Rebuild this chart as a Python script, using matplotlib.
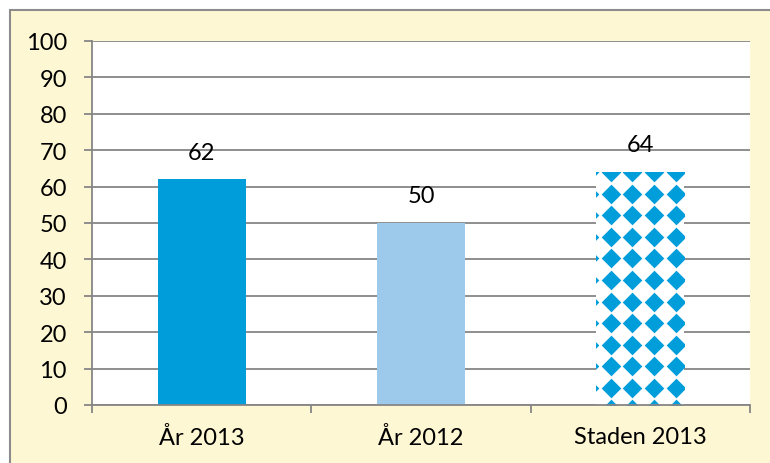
import numpy as np
import matplotlib
matplotlib.use("Agg")
import matplotlib.pyplot as plt
from matplotlib.patches import Rectangle

categories = ["År 2013", "År 2012", "Staden 2013"]
values = [62, 50, 64]
y_ticks = [0, 10, 20, 30, 40, 50, 60, 70, 80, 90, 100]

plt.rcParams['font.family'] = ['Lato', 'DejaVu Sans']

W, H = 770, 464
fig = plt.figure(figsize=(W / 100, H / 100), dpi=100)
fig.patch.set_facecolor("white")

# yellow chart area with grey frame (right/bottom run off the canvas)
fig.patches.append(Rectangle((10 / W, -0.2), 1.5, 1.2 - 11 / H,
                             transform=fig.transFigure, facecolor="#FEF7D3",
                             edgecolor="#8C8C8C", lw=1.5, zorder=-5))

ax = fig.add_axes([92 / W, 1 - 406 / H, (750 - 92) / W, (406 - 42) / H])
ax.set_facecolor("white")

x = np.arange(len(categories))
bw = 0.4
colors = ["#009DDB", "#9DC9EA", "white"]
bars = ax.bar(x, values, width=bw, color=colors, zorder=3)

# diamond pattern on the third bar
b = bars[2]
dx, dy = 0.099, 5.93
xs = np.arange(b.get_x() + 0.064 - dx, b.get_x() + bw + dx, dx)
ys = np.arange(values[2], -dy, -dy)
gx, gy = np.meshgrid(xs, ys)
sc = ax.scatter(gx.ravel(), gy.ravel(), marker="D", s=100, color="#009DDB",
                linewidths=0, zorder=4)
sc.set_clip_path(b)

for xi, v in zip(x, values):
    ax.text(xi, v + 7.5, str(v), ha="center", va="center", fontsize=17,
            color="black", zorder=5)

ax.set_xlim(-0.5, 2.5)
ax.set_ylim(0, 100)
ax.set_yticks(y_ticks)
ax.tick_params(axis="y", length=6, width=1.3, color="#868686", pad=12,
               labelsize=17)
ax.set_xticks(x)
ax.set_xticklabels(categories, fontsize=17)
ax.set_xticks([-0.5, 0.5, 1.5, 2.5], minor=True)
ax.tick_params(axis="x", which="major", length=0, pad=15)
ax.tick_params(axis="x", which="minor", length=6, width=1.3, color="#868686")

ax.yaxis.grid(True, color="#868686", lw=1.3, zorder=0)
ax.set_axisbelow(True)
for s in ["top", "right"]:
    ax.spines[s].set_visible(False)
for s in ["left", "bottom"]:
    ax.spines[s].set_color("#868686")
    ax.spines[s].set_linewidth(1.3)
    ax.spines[s].set_zorder(6)

fig.savefig("out.png", dpi=100)
